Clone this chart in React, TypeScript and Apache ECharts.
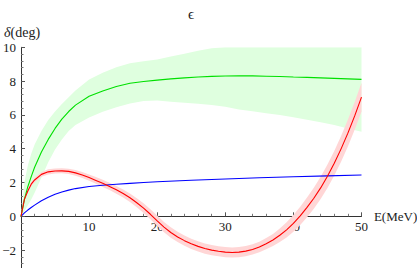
import React, { useEffect, useRef } from "react";
import * as echarts from "echarts";

// ---- data ----
const redE = [0, 0.5, 1, 1.5, 2, 3, 4, 5, 6, 7, 8, 9, 10, 11, 12, 13, 14, 15, 16, 17, 18, 19, 20, 21, 22, 23, 24, 25, 26, 27, 28, 29, 30, 31, 32, 33, 34, 35, 36, 37, 38, 39, 40, 41, 42, 43, 44, 45, 46, 47, 48, 49, 50];
const redMid = [0, 1.0, 1.5, 1.9, 2.15, 2.48, 2.63, 2.68, 2.69, 2.66, 2.57, 2.44, 2.29, 2.12, 1.95, 1.77, 1.57, 1.35, 1.1, 0.8, 0.48, 0.12, -0.27, -0.64, -0.96, -1.22, -1.44, -1.63, -1.78, -1.91, -2.0, -2.07, -2.12, -2.14, -2.12, -2.06, -1.96, -1.82, -1.62, -1.4, -1.12, -0.8, -0.42, 0.03, 0.53, 1.07, 1.68, 2.37, 3.14, 3.99, 4.92, 5.94, 7.05];
const redLow = [0, 0.92, 1.4, 1.78, 2.02, 2.34, 2.48, 2.53, 2.54, 2.5, 2.4, 2.26, 2.1, 1.92, 1.74, 1.55, 1.34, 1.11, 0.85, 0.53, 0.19, -0.18, -0.58, -0.95, -1.27, -1.52, -1.74, -1.93, -2.08, -2.21, -2.3, -2.37, -2.42, -2.44, -2.42, -2.36, -2.26, -2.13, -1.95, -1.76, -1.52, -1.25, -0.92, -0.51, -0.05, 0.45, 1.02, 1.67, 2.41, 3.23, 4.13, 5.12, 6.2];
const redHigh = [0, 1.08, 1.6, 2.02, 2.28, 2.62, 2.78, 2.83, 2.84, 2.82, 2.74, 2.62, 2.48, 2.32, 2.16, 1.99, 1.8, 1.59, 1.35, 1.07, 0.77, 0.42, 0.04, -0.33, -0.65, -0.92, -1.14, -1.33, -1.48, -1.61, -1.7, -1.77, -1.82, -1.84, -1.82, -1.76, -1.66, -1.51, -1.29, -1.04, -0.72, -0.35, 0.08, 0.57, 1.11, 1.69, 2.34, 3.07, 3.87, 4.75, 5.71, 6.76, 7.9];

const greenE = [0, 0.5, 1, 1.5, 2, 3, 4, 5, 6, 7, 8, 10, 12, 14, 16, 18, 20, 22, 24, 26, 28, 30, 32, 34, 36, 38, 40, 42, 44, 46, 48, 50];
const greenMid = [0, 1.0, 1.75, 2.35, 2.9, 3.8, 4.55, 5.2, 5.75, 6.2, 6.58, 7.1, 7.42, 7.68, 7.87, 7.98, 8.06, 8.13, 8.19, 8.24, 8.28, 8.3, 8.31, 8.31, 8.29, 8.27, 8.24, 8.22, 8.19, 8.16, 8.13, 8.1];
const greenHigh = [0, 2.0, 3.0, 3.7, 4.25, 5.05, 5.7, 6.2, 6.65, 7.05, 7.45, 8.1, 8.5, 8.82, 9.05, 9.18, 9.28, 9.45, 9.62, 9.8, 9.95, 10, 10, 10, 10, 10, 10, 10, 10, 10, 10, 10];
const greenLow = [0, 0.3, 0.65, 1.0, 1.4, 2.3, 3.2, 3.95, 4.55, 5.05, 5.4, 5.85, 6.18, 6.45, 6.68, 6.82, 6.85, 6.78, 6.72, 6.66, 6.58, 6.48, 6.32, 6.22, 6.1, 6.0, 5.86, 5.72, 5.56, 5.4, 5.2, 5.0];

const blueE = [0, 0.5, 1, 1.5, 2, 3, 4, 5, 6, 7, 8, 10, 12, 14, 16, 18, 20, 25, 30, 35, 40, 45, 50];
const blueMid = [0, 0.2, 0.37, 0.52, 0.66, 0.92, 1.13, 1.3, 1.44, 1.55, 1.64, 1.76, 1.84, 1.9, 1.95, 2.0, 2.04, 2.13, 2.21, 2.28, 2.34, 2.39, 2.44];

const xTicks = { min: 0, max: 50, interval: 10 };
const yTicks = { min: -4, max: 10, interval: 2 };
const yHiddenLabels = [-4];
const xHiddenLabels = [0];

const FONT = "Liberation Serif";
const GRID_TOP = 47.3;
const PX_PER_UNIT = 16.9;
const GRID_H = (yTicks.max - yTicks.min) * PX_PER_UNIT;
const GRID_BOTTOM = 268 - GRID_TOP - GRID_H;
// distance from the grid's bottom edge (y = min) up to y = 0
const X_AXIS_OFFSET = -(0 - yTicks.min) * PX_PER_UNIT;

function bandSeries(xs: number[], lo: number[], hi: number[], color: string, z: number) {
  return {
    type: "custom",
    silent: true,
    clip: true,
    z,
    data: xs.map((x, i) => [x, lo[i], hi[i]]),
    encode: { x: 0, y: [1, 2] },
    renderItem: (params: any, api: any) => {
      if (params.dataIndex !== 0) return null;
      const pts: number[][] = [];
      for (let i = 0; i < xs.length; i++) pts.push(api.coord([xs[i], hi[i]]));
      for (let i = xs.length - 1; i >= 0; i--) pts.push(api.coord([xs[i], lo[i]]));
      return { type: "polygon", shape: { points: pts }, style: { fill: color } };
    },
  };
}

function lineSeries(xs: number[], ys: number[], color: string, z: number) {
  return {
    type: "line",
    data: xs.map((x, i) => [x, ys[i]]),
    showSymbol: false,
    smooth: false,
    z,
    lineStyle: { color, width: 1.1 },
    silent: true,
  };
}

export default function App() {
  const ref = useRef<HTMLDivElement>(null);
  useEffect(() => {
    const chart = echarts.init(ref.current!, null, { renderer: "svg" });
    chart.setOption({
      animation: false,
      backgroundColor: "#fff",
      grid: { left: 21, right: 55.5, top: GRID_TOP, bottom: GRID_BOTTOM, containLabel: false, outerBoundsMode: "none" },
      xAxis: {
        type: "value",
        ...xTicks,
        position: "bottom",
        offset: X_AXIS_OFFSET,
        name: "E(MeV)",
        nameLocation: "end",
        nameGap: 10,
        nameTextStyle: { fontFamily: FONT, fontSize: 13, color: "#222", verticalAlign: "middle" },
        axisLine: { onZero: false, lineStyle: { color: "#333", width: 1 } },
        axisTick: { inside: true, length: 4, lineStyle: { color: "#555" } },
        minorTick: { show: true, splitNumber: 5, length: 2.5, lineStyle: { color: "#777" } },
        splitLine: { show: false },
        axisLabel: {
          fontFamily: FONT,
          fontSize: 13,
          color: "#222",
          margin: 4,
          formatter: (v: number) => (xHiddenLabels.includes(v) ? "" : String(v)),
        },
      },
      yAxis: {
        type: "value",
        ...yTicks,
        axisLine: { show: true, onZero: false, lineStyle: { color: "#333", width: 1 } },
        axisTick: { show: true, inside: true, length: 4, lineStyle: { color: "#555" } },
        minorTick: { show: true, splitNumber: 5, length: 2.5, lineStyle: { color: "#777" } },
        splitLine: { show: false },
        axisLabel: {
          fontFamily: FONT,
          fontSize: 13,
          color: "#222",
          margin: 5,
          formatter: (v: number) => (yHiddenLabels.includes(v) ? "" : String(v).replace("-", "\u2212")),
        },
      },
      graphic: [
        {
          type: "text",
          x: 191,
          y: 14,
          style: { text: "ϵ", fontFamily: FONT, fontSize: 15, fill: "#222", textAlign: "center", textVerticalAlign: "middle" },
        },
        {
          type: "text",
          x: 4,
          y: 32,
          style: {
            text: "{i|δ}(deg)",
            fontFamily: FONT,
            fontSize: 14,
            fill: "#222",
            textAlign: "left",
            textVerticalAlign: "middle",
            rich: { i: { fontStyle: "italic", fontFamily: FONT, fontSize: 14, fill: "#222" } },
          },
        },
      ],
      series: [
        bandSeries(greenE, greenLow, greenHigh, "#dfffdf", 1),
        bandSeries(redE, redLow, redHigh, "#ffd6d6", 2),
        lineSeries(blueE, blueMid, "#0000ff", 3),
        lineSeries(greenE, greenMid, "#00e000", 4),
        lineSeries(redE, redMid, "#ff0000", 5),
      ],
    });
    return () => chart.dispose();
  }, []);
  return <div ref={ref} style={{ position: "absolute", left: 0, top: 0, width: 417, height: 268 }} />;
}
